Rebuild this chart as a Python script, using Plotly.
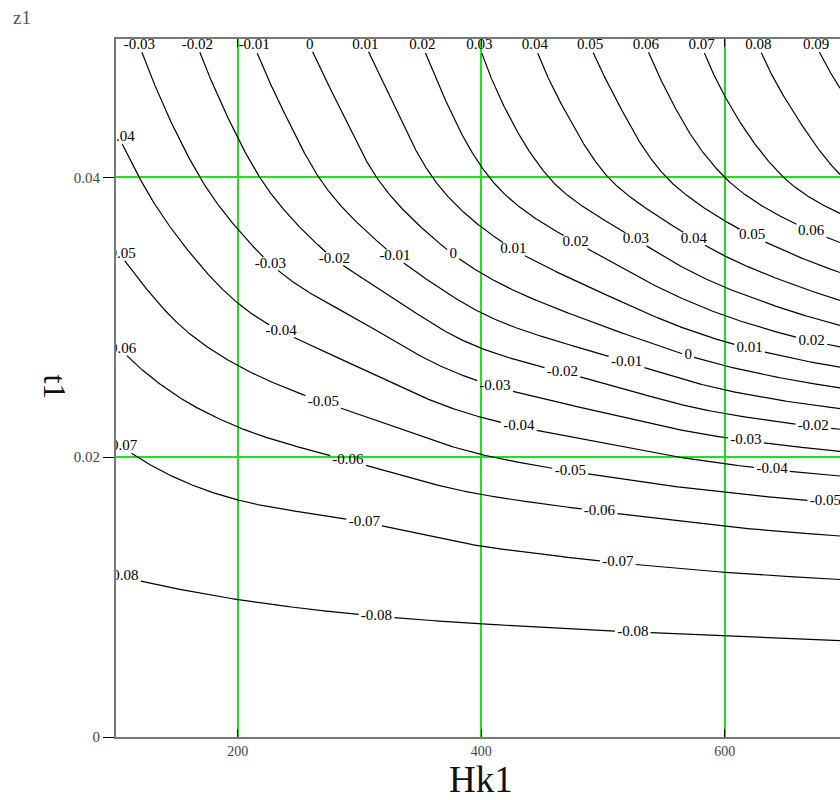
import numpy as np
import plotly.graph_objects as go

# ---------------- data ----------------
hk1 = [100, 200, 300, 400, 500, 600, 700]
t1 = [0.0, 0.005, 0.01, 0.015, 0.02, 0.025, 0.03, 0.035, 0.04, 0.045, 0.05]
z1 = [
    [-0.0880, -0.0880, -0.0880, -0.0880, -0.0880, -0.0880, -0.0880],
    [-0.0852, -0.0848, -0.0845, -0.0842, -0.0838, -0.0835, -0.0830],
    [-0.0815, -0.0798, -0.0783, -0.0768, -0.0755, -0.0743, -0.0732],
    [-0.0764, -0.0731, -0.0708, -0.0669, -0.0636, -0.0602, -0.0575],
    [-0.0713, -0.0645, -0.0588, -0.0507, -0.0443, -0.0376, -0.0322],
    [-0.0645, -0.0536, -0.0441, -0.0315, -0.0215, -0.0089, 0.0007],
    [-0.0572, -0.0421, -0.0293, -0.0112, 0.0028, 0.0194, 0.0341],
    [-0.0499, -0.0324, -0.0140, 0.0058, 0.0226, 0.0425, 0.0592],
    [-0.0438, -0.0237, -0.0030, 0.0186, 0.0391, 0.0600, 0.0806],
    [-0.0382, -0.0175, 0.0035, 0.0259, 0.0469, 0.0689, 0.0890],
    [-0.0335, -0.0124, 0.0096, 0.0308, 0.0529, 0.0746, 0.0959],
]
levels = [-0.08, -0.07, -0.06, -0.05, -0.04, -0.03, -0.02, -0.01, 0.0,
          0.01, 0.02, 0.03, 0.04, 0.05, 0.06, 0.07, 0.08, 0.09]
x_ticks = [200, 400, 600]
y_ticks = [0, 0.02, 0.04]
y_tick_text = ["0", "0.02", "0.04"]

# ---------------- layout constants ----------------
W, H = 840, 800
ML, MR, MT, MB = 116, 0, 39, 63
XR = [100.0, 694.6]
YR = [0.0, 0.0499]
PW, PH = W - ML - MR, H - MT - MB
SERIF = "Liberation Serif, Times New Roman, serif"
LABEL_SIZE = 15
LABEL_SPACING = 257.0   # px along each contour between labels
LABEL_START = 7.0       # px from the contour's start


def pchip_slopes(x, y):
    x = np.asarray(x, float)
    y = np.asarray(y, float)
    h = np.diff(x)
    d = np.diff(y) / h
    n = len(x)
    m = np.zeros(n)
    for k in range(1, n - 1):
        if d[k - 1] * d[k] <= 0:
            m[k] = 0.0
        else:
            w1 = 2 * h[k] + h[k - 1]
            w2 = h[k] + 2 * h[k - 1]
            m[k] = (w1 + w2) / (w1 / d[k - 1] + w2 / d[k])

    def end(h0, h1, d0, d1):
        s = ((2 * h0 + h1) * d0 - h0 * d1) / (h0 + h1)
        if np.sign(s) != np.sign(d0):
            s = 0.0
        elif np.sign(d0) != np.sign(d1) and abs(s) > abs(3 * d0):
            s = 3 * d0
        return s

    m[0] = end(h[0], h[1], d[0], d[1])
    m[-1] = end(h[-1], h[-2], d[-1], d[-2])
    return m


def pchip_eval(x, y, m, xq):
    x = np.asarray(x, float)
    y = np.asarray(y, float)
    idx = np.clip(np.searchsorted(x, xq) - 1, 0, len(x) - 2)
    x0 = x[idx]
    hh = x[idx + 1] - x0
    s = (xq - x0) / hh
    h00 = 2 * s**3 - 3 * s**2 + 1
    h10 = s**3 - 2 * s**2 + s
    h01 = -2 * s**3 + 3 * s**2
    h11 = s**3 - s**2
    return h00 * y[idx] + h10 * hh * m[idx] + h01 * y[idx + 1] + h11 * hh * m[idx + 1]


def to_px(x, y):
    return (ML + (x - XR[0]) / (XR[1] - XR[0]) * PW,
            MT + (YR[1] - y) / (YR[1] - YR[0]) * PH)


def from_px(px, py):
    return (XR[0] + (px - ML) / PW * (XR[1] - XR[0]),
            YR[1] - (py - MT) / PH * (YR[1] - YR[0]))


def label_text(v):
    return "0" if abs(v) < 1e-12 else f"{v:.2f}"


def text_width(s, size):
    w = {"-": 0.333, ".": 0.25}
    return sum(w.get(c, 0.5) for c in s) * size


# ---------------- smooth field from the read grid ----------------
Hk = np.array(hk1, float)
T = np.array(t1, float)
Z = np.array(z1, float)
hf = np.linspace(XR[0], XR[1], 1400)
tf = np.linspace(YR[0], YR[1], 1600)
Zr = np.empty((len(T), len(hf)))
for i in range(len(T)):
    Zr[i] = pchip_eval(Hk, Z[i], pchip_slopes(Hk, Z[i]), hf)
Zf = np.empty((len(tf), len(hf)))
for j in range(len(hf)):
    Zf[:, j] = pchip_eval(T, Zr[:, j], pchip_slopes(T, Zr[:, j]), tf)
Zf = np.maximum.accumulate(Zf, axis=0)

fig = go.Figure()
lab_x, lab_y, lab_t = [], [], []

for L in levels:
    xs, ys = [], []
    for j in range(len(hf)):
        col = Zf[:, j]
        if col[0] <= L <= col[-1]:
            if not xs and j > 0:
                top = Zf[-1]
                a, b = top[j - 1], top[j]
                f = (L - a) / (b - a) if b != a else 0.0
                xs.append(hf[j - 1] + f * (hf[j] - hf[j - 1]))
                ys.append(YR[1])
            xs.append(hf[j])
            ys.append(float(np.interp(L, col, tf)))
    if len(xs) < 2:
        continue
    xs = np.array(xs)
    ys = np.array(ys)
    px, py = to_px(xs, ys)
    s = np.concatenate([[0.0], np.cumsum(np.hypot(np.diff(px), np.diff(py)))])
    txt = label_text(L)
    w = text_width(txt, LABEL_SIZE)
    hgt = 0.72 * LABEL_SIZE
    boxes = []
    sl = LABEL_START
    while sl < s[-1]:
        lx = float(np.interp(sl, s, px))
        ly = float(np.interp(sl, s, py))
        boxes.append((lx, ly))
        dx, dy = from_px(lx, ly)
        lab_x.append(dx)
        lab_y.append(dy)
        lab_t.append(txt)
        sl += LABEL_SPACING
    keep = np.ones(len(xs), bool)
    for (lx, ly) in boxes:
        inside = (np.abs(px - lx) < w / 2 + 2) & (np.abs(py - ly) < hgt / 2 + 1)
        keep &= ~inside
    lx_list, ly_list = [], []
    for k in range(len(xs)):
        if keep[k]:
            lx_list.append(float(xs[k]))
            ly_list.append(float(ys[k]))
        elif lx_list and lx_list[-1] is not None:
            lx_list.append(None)
            ly_list.append(None)
    fig.add_trace(go.Scatter(x=lx_list, y=ly_list, mode="lines",
                             line=dict(color="black", width=1.2),
                             connectgaps=False, hoverinfo="skip",
                             cliponaxis=True))

fig.add_trace(go.Scatter(x=lab_x, y=lab_y, text=lab_t, mode="text",
                         textposition="middle center", cliponaxis=True,
                         textfont=dict(family=SERIF, size=LABEL_SIZE, color="black"),
                         hoverinfo="skip"))

fig.update_layout(
    width=W, height=H,
    margin=dict(l=ML, r=MR, t=MT, b=MB),
    paper_bgcolor="white", plot_bgcolor="white",
    showlegend=False,
    font=dict(family=SERIF, color="#333"),
    xaxis=dict(range=XR, tickvals=x_ticks, ticks="inside", ticklen=8,
               tickcolor="black", showline=True, linecolor="#777", linewidth=2,
               mirror="ticks", showgrid=True, gridcolor="#22dd22", gridwidth=1.5,
               zeroline=False, tickfont=dict(family=SERIF, size=14, color="#444")),
    yaxis=dict(range=YR, tickvals=y_ticks, ticktext=y_tick_text,
               ticks="outside", ticklen=11, tickcolor="black",
               showline=True, linecolor="#777", linewidth=2,
               showgrid=True, gridcolor="#22dd22", gridwidth=1.5, zeroline=False,
               tickfont=dict(family=SERIF, size=15, color="#444")),
    annotations=[
        dict(text="z1", xref="paper", yref="paper", x=-0.130, y=1.031,
             xanchor="center", yanchor="middle", showarrow=False,
             font=dict(family=SERIF, size=19, color="#555")),
        dict(text="Hk1", xref="paper", yref="paper", x=0.504, y=-0.0605,
             xanchor="center", yanchor="middle", showarrow=False,
             font=dict(family=SERIF, size=37, color="#111")),
        dict(text="t1", xref="paper", yref="paper", x=-0.084, y=0.502,
             xanchor="center", yanchor="middle", showarrow=False, textangle=90,
             font=dict(family=SERIF, size=32, color="#111")),
    ],
)

fig.write_html("out.html")
